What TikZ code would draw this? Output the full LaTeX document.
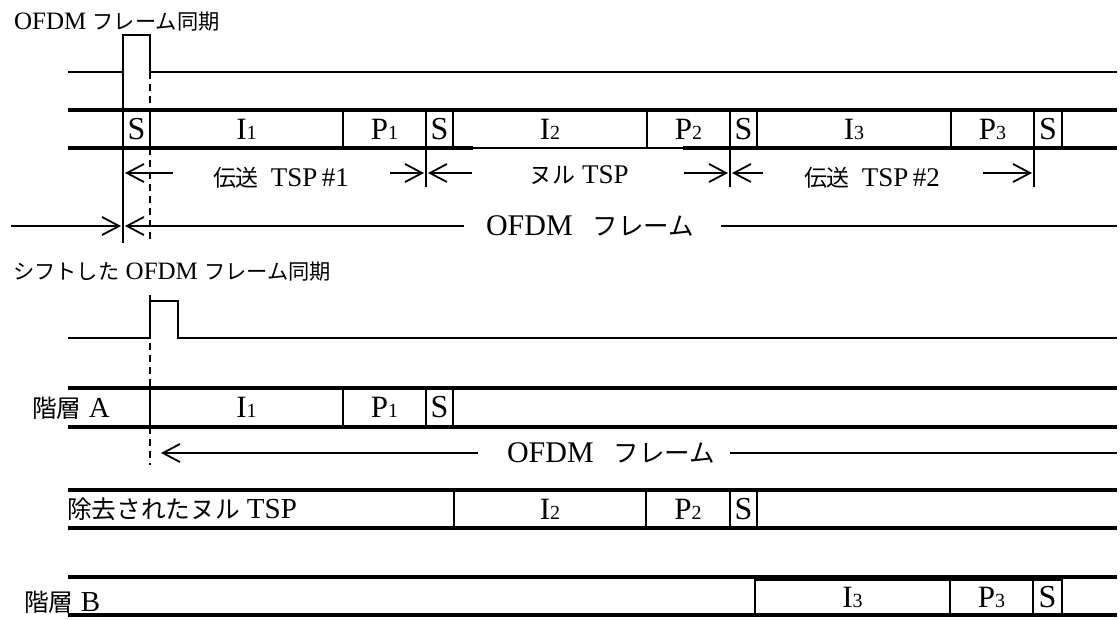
\documentclass[tikz,border=0pt]{standalone}
\usepackage{fontspec}
\setmainfont{Liberation Serif}
\newfontfamily\jp{Noto Sans CJK JP}[Scale=0.85]
\usetikzlibrary{arrows.meta,positioning}
\newcommand\subno[1]{{\fontsize{20}{20}\selectfont #1}}
\newcommand\sync{{\fontsize{32}{32}\selectfont S}}

\begin{document}
\begin{tikzpicture}[
      x=1pt, y=-1pt,
      node distance=0pt,
      cell/.style={
        draw, line width=2pt, inner sep=0pt, outer sep=0pt,
        minimum height=38pt, font=\fontsize{31}{32}\selectfont
      },
      rowline/.style={line width=3.8pt},
      sig/.style={line width=1.8pt},
      guide/.style={line width=1.8pt, dash pattern=on 7pt off 5pt},
      arrow/.style={-{Straight Barb[length=17pt,width=18pt]}, line width=1.8pt},
      lbl/.style={inner sep=0pt, font=\fontsize{#1}{#1}\selectfont},
      title/.style={inner sep=0pt, anchor=west, font=\fontsize{25}{26}\selectfont}
    ]
    \useasboundingbox (0,0) rectangle (1120,619);
    \coordinate (rend) at (1117,0);
    \coordinate (ay) at (0,173);

    % frame sync
    \node[title] (sync) at (14,22) {OFDM {\jp フレーム同期}};
    \draw[sig] (68,72) -- (123,72) |- (150,35) |- (1117,72);

    \node[cell, minimum width=27pt] (sa) at (136.5,129) {\sync};
    \node[cell, minimum width=193pt, right=of sa] (ia) {I\subno{1}};
    \node[cell, minimum width=83pt, right=of ia] (pa) {P\subno{1}};
    \node[cell, minimum width=27pt, right=of pa] (sb) {\sync};
    \node[cell, minimum width=194pt, right=of sb] (ib) {I\subno{2}};
    \node[cell, minimum width=83pt, right=of ib] (pb) {P\subno{2}};
    \node[cell, minimum width=27pt, right=of pb] (sc) {\sync};
    \node[cell, minimum width=194pt, right=of sc] (ic) {I\subno{3}};
    \node[cell, minimum width=83pt, right=of ic] (pc) {P\subno{3}};
    \node[cell, minimum width=28pt, right=of pc] (sd) {\sync};
    \draw[rowline] (68,110) -- (1117,110);
    \draw[rowline] (68,148) -- (473,148);
    \draw[rowline] (683,148) -- (1117,148);

    \coordinate (k0) at (123,243);
    \coordinate (k1) at (426,187);
    \coordinate (k2) at (730,187);
    \coordinate (k3) at (1034,187);
    \draw[sig] (123,72) -- (k0);
    \draw[sig] (sb.south west) -- (k1);
    \draw[sig] (sc.south west) -- (k2);
    \draw[sig] (sd.south west) -- (k3);
    \draw[guide] (150,72) -- (sa.north east);
    \draw[guide] (sa.south east) -- (150,243);

    \node[lbl=27] (tx1) at (281,178) {{\jp 伝送}\hspace{12pt}TSP\,\#1};
    \node[lbl=27] (null) at (579,175) {{\jp ヌル} TSP};
    \node[lbl=27] (tx2) at (872,178) {{\jp 伝送}\hspace{12pt}TSP\,\#2};
    \draw[arrow] ([xshift=-40pt]tx1.west |- ay) -- ([xshift=2pt]ay -| sa.west);
    \draw[arrow] ([xshift=41pt]tx1.east |- ay) -- ([xshift=-2pt]ay -| sb.west);
    \draw[arrow] ([xshift=-57pt]null.west |- ay) -- ([xshift=2pt]ay -| sb.west);
    \draw[arrow] ([xshift=55pt]null.east |- ay) -- ([xshift=-2pt]ay -| sc.west);
    \draw[arrow] ([xshift=-41pt]tx2.west |- ay) -- ([xshift=2pt]ay -| sc.west);
    \draw[arrow] ([xshift=43pt]tx2.east |- ay) -- ([xshift=-2pt]ay -| sd.west);

    \node[lbl=30] (frm) at (590,226) {OFDM\hspace{20pt}{\jp フレーム}};
    \coordinate (f0) at (11,226);
    \draw[arrow] (f0) -- ([xshift=-2pt]f0 -| sa.west);
    \draw[arrow] ([xshift=-22pt]frm.west) -- ([xshift=2pt]frm.west -| sa.west);
    \draw[sig] ([xshift=27pt]frm.east) -- (frm.east -| rend);

    % shifted frame sync
    \node[title] (shift) at (13,272) {{\jp シフトした} OFDM {\jp フレーム同期}};
    \draw[sig] (68,338) -- (150,338) |- (178,301) |- (1117,338);

    \node[cell, minimum width=193pt, minimum height=39pt] (ra) at (246.5,407.5) {I\subno{1}};
    \node[cell, minimum width=83pt, minimum height=39pt, right=of ra] (rp) {P\subno{1}};
    \node[cell, minimum width=27pt, minimum height=39pt, right=of rp] (rs) {\sync};
    \draw[rowline] (68,388) -- (1117,388);
    \draw[rowline] (68,427) -- (1117,427);
    \node[lbl=29] (lyra) at (71,408) {{\jp 階層}\ A};
    \draw[guide] (150,295) -- (ra.north west);
    \draw[guide] (ra.south west) -- (150,465);

    \node[lbl=30] (frm2) at (611,453) {OFDM\hspace{20pt}{\jp フレーム}};
    \draw[arrow] ([xshift=-29pt]frm2.west) -- ([xshift=11pt]frm2.west -| ra.west);
    \draw[sig] ([xshift=15pt]frm2.east) -- (frm2.east -| rend);

    % removed null TSP
    \node[cell, minimum width=192pt] (ni) at (550,509) {I\subno{2}};
    \node[cell, minimum width=84pt, right=of ni] (np) {P\subno{2}};
    \node[cell, minimum width=27pt, right=of np] (ns) {\sync};
    \draw[rowline] (68,490) -- (1117,490);
    \draw[rowline] (68,528) -- (1117,528);
    \node[lbl=29] (rm) at (182,509) {{\jp 除去されたヌル} TSP};

    % layer B
    \node[cell, minimum width=195pt, minimum height=36pt] (bi) at (852.5,597.5) {I\subno{3}};
    \node[cell, minimum width=83pt, minimum height=36pt, right=of bi] (bp) {P\subno{3}};
    \node[cell, minimum width=29pt, minimum height=36pt, right=of bp] (bs) {\sync};
    \draw[rowline] (68,577) -- (1117,577);
    \draw[rowline] (68,615) -- (1117,615);
    \node[lbl=29, anchor=west] (lyrb) at (24,602) {{\jp 階層}\ B};
  \end{tikzpicture}
\end{document}
